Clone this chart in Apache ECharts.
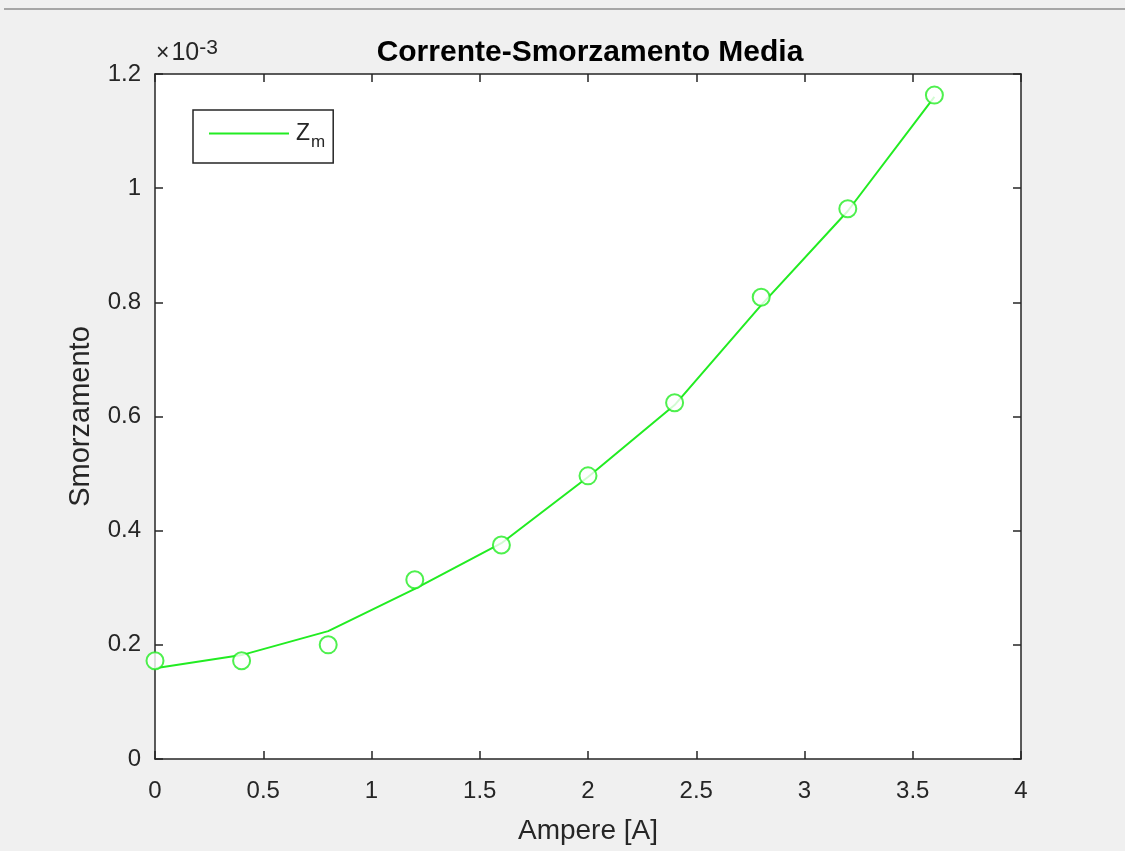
<!DOCTYPE html>
<html>
<head>
<meta charset="utf-8">
<script src="https://cdn.jsdelivr.net/npm/echarts@6/dist/echarts.min.js"></script>
<style>
html,body{margin:0;padding:0;background:#f0f0f0;}
#c{width:1125px;height:851px;}
</style>
</head>
<body>
<div id="c"></div>
<script>
// Data (Smorzamento values in units of 1e-3)
const ampere = [0, 0.4, 0.8, 1.2, 1.6, 2.0, 2.4, 2.8, 3.2, 3.6];
const measured = [0.172, 0.172, 0.200, 0.314, 0.375, 0.496, 0.624, 0.809, 0.964, 1.163];
const fitted = [0.159, 0.182, 0.224, 0.298, 0.378, 0.494, 0.620, 0.795, 0.960, 1.160];
const xTicks = [0, 0.5, 1, 1.5, 2, 2.5, 3, 3.5, 4];
const yTicks = [0, 0.2, 0.4, 0.6, 0.8, 1, 1.2];

const green = '#22ec22';
const axisColor = '#262626';
const font = 'Liberation Sans, Arial, sans-serif';

const chart = echarts.init(document.getElementById('c'), null, {renderer: 'canvas'});

const commonAxisLine = {show: true, onZero: false, lineStyle: {color: axisColor, width: 1.5}};
const commonTick = {show: true, inside: true, length: 8, lineStyle: {color: axisColor, width: 1.5}};

chart.setOption({
  backgroundColor: '#f0f0f0',
  animation: false,
  title: {
    text: 'Corrente-Smorzamento Media',
    left: 585, top: 33, textAlign: 'center',
    textStyle: {fontFamily: font, fontWeight: 'bold', fontSize: 30, color: '#000'}
  },
  legend: {
    left: 193, top: 110,
    padding: [12, 8, 12, 16],
    borderColor: axisColor, borderWidth: 1.5, borderRadius: 0,
    backgroundColor: '#fff',
    itemWidth: 80, itemHeight: 2, itemGap: 0,
    data: [{name: 'Zm', icon: 'rect', itemStyle: {color: green}}],
    formatter: function () { return '{z|Z}{m|m}'; },
    textStyle: {
      fontFamily: font, color: axisColor, padding: [0, 0, 0, 2],
      rich: {
        z: {fontFamily: font, fontSize: 23, color: axisColor, padding: [0, 0, 0, 0]},
        m: {fontFamily: font, fontSize: 17, color: axisColor, padding: [18, 0, 0, 1]}
      }
    }
  },
  grid: {
    left: 155, right: 104, top: 74, bottom: 92,
    show: true, backgroundColor: '#fff', borderWidth: 0
  },
  xAxis: [{
    type: 'value', min: 0, max: 4, interval: 0.5,
    name: 'Ampere [A]', nameLocation: 'middle', nameGap: 58,
    nameTextStyle: {fontFamily: font, fontSize: 28, color: axisColor},
    axisLine: commonAxisLine, axisTick: commonTick,
    splitLine: {show: false},
    axisLabel: {
      margin: 20, fontFamily: font, fontSize: 24, color: axisColor,
      customValues: xTicks,
      formatter: v => String(Math.round(v * 100) / 100)
    }
  }, {
    type: 'value', min: 0, max: 4, interval: 0.5, position: 'top',
    axisLine: commonAxisLine, axisTick: commonTick,
    splitLine: {show: false}, axisLabel: {show: false}
  }],
  yAxis: [{
    type: 'value', min: 0, max: 1.2, interval: 0.2,
    name: 'Smorzamento', nameLocation: 'middle', nameGap: 60, nameRotate: 90,
    nameTextStyle: {fontFamily: font, fontSize: 29, color: axisColor},
    axisLine: commonAxisLine, axisTick: commonTick,
    splitLine: {show: false},
    axisLabel: {
      margin: 14, fontFamily: font, fontSize: 24, color: axisColor,
      customValues: yTicks,
      formatter: v => String(Math.round(v * 100) / 100)
    }
  }, {
    type: 'value', min: 0, max: 1.2, interval: 0.2, position: 'right',
    axisLine: commonAxisLine, axisTick: commonTick,
    splitLine: {show: false}, axisLabel: {show: false}
  }],
  graphic: [
    {
      type: 'line', silent: true,
      shape: {x1: 4, y1: 9, x2: 1125, y2: 9},
      style: {stroke: '#a6a6a6', lineWidth: 2}
    },
    {
      type: 'text', left: 156, top: 38, silent: true,
      style: {
        text: '{a|×}{b|10}{c|-3}',
        rich: {
          a: {fontFamily: font, fontSize: 23, fill: axisColor, padding: [6, 2, 0, 0]},
          b: {fontFamily: font, fontSize: 25, fill: axisColor, padding: [6, 0, 0, 0]},
          c: {fontFamily: font, fontSize: 21, fill: axisColor, padding: [0, 0, 4, 0]}
        }
      }
    }
  ],
  series: [{
    name: 'Zm', type: 'line',
    data: ampere.map((x, i) => [x, fitted[i]]),
    showSymbol: false, symbol: 'none',
    lineStyle: {color: green, width: 2},
    itemStyle: {color: green},
    z: 3
  }, {
    name: 'points', type: 'scatter',
    data: ampere.map((x, i) => [x, measured[i]]),
    symbol: 'emptyCircle', symbolSize: 17,
    itemStyle: {color: green, borderColor: green, borderWidth: 2},
    z: 4
  }]
});
</script>
</body>
</html>
